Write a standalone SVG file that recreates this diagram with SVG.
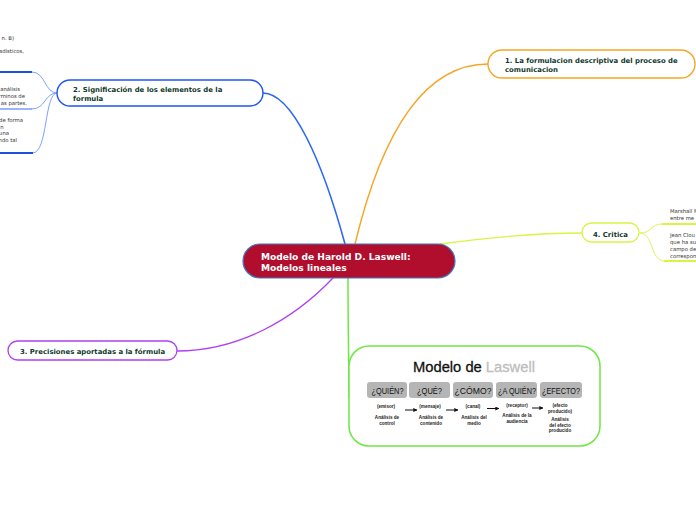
<svg xmlns="http://www.w3.org/2000/svg" width="696" height="520" viewBox="0 0 696 520">
<style>
.lbl{font-family:"DejaVu Sans",Verdana,sans-serif;font-weight:bold;fill:#10392c}
.sm{font-family:"DejaVu Sans",Verdana,sans-serif;font-size:5.3px;fill:#333}
.q{font-family:"Liberation Sans",Arial,sans-serif;font-size:8.6px;fill:#111;text-anchor:middle}
.t{font-family:"Liberation Sans",Arial,sans-serif;font-size:4.6px;font-weight:bold;fill:#222;text-anchor:middle}
.qb{fill:#b5b5b5}
.c{fill:none;stroke-linecap:round}
</style>
<defs>
<marker id="ah" viewBox="0 0 6 6" refX="5.5" refY="3" markerWidth="4" markerHeight="4" orient="auto"><path d="M0,0 L6,3 L0,6 z" fill="#111"/></marker>
</defs>
<rect width="696" height="520" fill="#fff"/>
<g id="connectors">
<path class="c" d="M345,244 C322,160 292,93 263,93" stroke="#2c68f5" stroke-width="1.6"/>
<path class="c" d="M355,244 C380,140 420,64 488,64" stroke="#f5a524" stroke-width="1.4"/>
<path class="c" d="M440,244 C500,236 540,233 582,233" stroke="#d8f545" stroke-width="1.3"/>
<path class="c" d="M333,278 C295,318 240,351 177,351" stroke="#b040f0" stroke-width="1.3"/>
<path class="c" d="M348,278 C348,330 349,370 349,398" stroke="#6ce844" stroke-width="1.5"/>
<path class="c" d="M57,93 C44,93 46,72 32,72" stroke="#7ea2fb" stroke-width="1"/>
<path class="c" d="M57,93 C44,93 46,109 32,109" stroke="#7ea2fb" stroke-width="1"/>
<path class="c" d="M57,93 C44,93 48,153 33,153" stroke="#7ea2fb" stroke-width="1"/>
<path class="c" d="M640,233 C652,233 650,224 662,224" stroke="#dcf55a" stroke-width="1"/>
<path class="c" d="M640,233 C654,233 650,261 664,261" stroke="#dcf55a" stroke-width="1"/>
</g>
<g id="n2-children">
<text class="sm" x="14" y="40" text-anchor="end">n. B)</text>
<text class="sm" x="24" y="53" text-anchor="end">adísticos,</text>
<line x1="0" y1="72" x2="32" y2="72" stroke="#1f50dc" stroke-width="2"/>
<text class="sm" x="20" y="91" text-anchor="end">análisis</text>
<text class="sm" x="25" y="98" text-anchor="end">rminos de</text>
<text class="sm" x="27" y="105" text-anchor="end">as partes.</text>
<line x1="0" y1="109" x2="32" y2="109" stroke="#5a84f2" stroke-width="1.2"/>
<text class="sm" x="23" y="122" text-anchor="end">de forma</text>
<text class="sm" x="3.5" y="129" text-anchor="end">n</text>
<text class="sm" x="9" y="135" text-anchor="end">una</text>
<text class="sm" x="17" y="142" text-anchor="end">ndo tal</text>
<line x1="0" y1="153" x2="33" y2="153" stroke="#1f50dc" stroke-width="2"/>
</g>
<g id="n4-children">
<text class="sm" x="670" y="213">Marshall M</text>
<text class="sm" x="670" y="220">entre me</text>
<line x1="662" y1="224" x2="696" y2="224" stroke="#d8f545" stroke-width="2"/>
<text class="sm" x="670" y="237">Jean Clou</text>
<text class="sm" x="670" y="244">que ha su</text>
<text class="sm" x="670" y="251">campo de</text>
<text class="sm" x="670" y="258">correspon</text>
<line x1="664" y1="261" x2="696" y2="261" stroke="#d8f545" stroke-width="2"/>
</g>
<g id="central">
<rect x="243" y="244" width="212" height="34" rx="17" fill="#b10d2c" stroke="#3f7bc4" stroke-width="1.2"/>
<text class="lbl" x="261" y="260" font-size="9.1" style="fill:#fff">Modelo de Harold D. Laswell:</text>
<text class="lbl" x="261" y="271" font-size="9.1" style="fill:#fff">Modelos lineales</text>
</g>
<g id="node1">
<rect x="488" y="50" width="207" height="28" rx="14" fill="#fff" stroke="#f5a524" stroke-width="1.4"/>
<text class="lbl" x="505" y="63" font-size="6.9">1. La formulacion descriptiva del proceso de</text>
<text class="lbl" x="505" y="72" font-size="6.9">comunicacion</text>
</g>
<g id="node2">
<rect x="57" y="80" width="206" height="26" rx="13" fill="#fff" stroke="#1f55f0" stroke-width="1.4"/>
<text class="lbl" x="73" y="92" font-size="6.9">2. Significación de los elementos de la</text>
<text class="lbl" x="73" y="101" font-size="6.9">formula</text>
</g>
<g id="node3">
<rect x="8" y="341" width="169" height="19" rx="9.5" fill="#fff" stroke="#b040f0" stroke-width="1.3"/>
<text class="lbl" x="20" y="353.5" font-size="6.9">3. Precisiones aportadas a la fórmula</text>
</g>
<g id="node4">
<rect x="582" y="223" width="57" height="19" rx="9.5" fill="#fff" stroke="#d8f545" stroke-width="1.3"/>
<text class="lbl" x="593" y="236.5" font-size="6.9">4. Critica</text>
</g>
<g id="node5">
<rect x="349" y="346" width="251" height="100" rx="20" fill="#fff" stroke="#6ce844" stroke-width="1.5"/>
<text x="474" y="372" font-family="Liberation Sans, Arial, sans-serif" font-size="15" text-anchor="middle" stroke-width="0.3" textLength="122" lengthAdjust="spacingAndGlyphs"><tspan fill="#111" stroke="#111">Modelo de </tspan><tspan fill="#bdbdbd" stroke="#bdbdbd">Laswell</tspan></text>
<rect class="qb" x="367" y="382" width="40" height="16" rx="3"/>
<rect class="qb" x="409" y="382" width="41" height="16" rx="3"/>
<rect class="qb" x="453" y="382" width="40" height="16" rx="3"/>
<rect class="qb" x="496" y="382" width="41" height="16" rx="3"/>
<rect class="qb" x="540" y="382" width="42" height="16" rx="3"/>
<text class="q" x="387.5" y="394" textLength="32" lengthAdjust="spacingAndGlyphs">¿QUIÉN?</text>
<text class="q" x="429.5" y="394" textLength="25" lengthAdjust="spacingAndGlyphs">¿QUÉ?</text>
<text class="q" x="473" y="394" textLength="37" lengthAdjust="spacingAndGlyphs">¿CÓMO?</text>
<text class="q" x="517" y="394" textLength="38" lengthAdjust="spacingAndGlyphs">¿A QUIÉN?</text>
<text class="q" x="561" y="394" textLength="38" lengthAdjust="spacingAndGlyphs">¿EFECTO?</text>
<text class="t" x="386" y="408">(emisor)</text>
<text class="t" x="387" y="419">Análisis de</text>
<text class="t" x="387" y="424.5">control</text>
<text class="t" x="430" y="408">(mensaje)</text>
<text class="t" x="431" y="419">Análisis de</text>
<text class="t" x="431" y="424.5">contenido</text>
<text class="t" x="473" y="408">(canal)</text>
<text class="t" x="474" y="419">Análisis del</text>
<text class="t" x="474" y="424.5">medio</text>
<text class="t" x="517" y="406.5">(receptor)</text>
<text class="t" x="517" y="417">Análisis de la</text>
<text class="t" x="517" y="422.5">audiencia</text>
<text class="t" x="560" y="407">(efecto</text>
<text class="t" x="560" y="412.5">producido)</text>
<text class="t" x="560" y="421">Análisis</text>
<text class="t" x="560" y="426.5">del efecto</text>
<text class="t" x="560" y="432">producido</text>
<g stroke="#111" stroke-width="1" marker-end="url(#ah)">
<line x1="405" y1="410" x2="417" y2="410"/>
<line x1="446" y1="410" x2="458" y2="410"/>
<line x1="487" y1="408.5" x2="499" y2="408.5"/>
<line x1="532" y1="408" x2="543" y2="408"/>
</g>
</g>
</svg>
